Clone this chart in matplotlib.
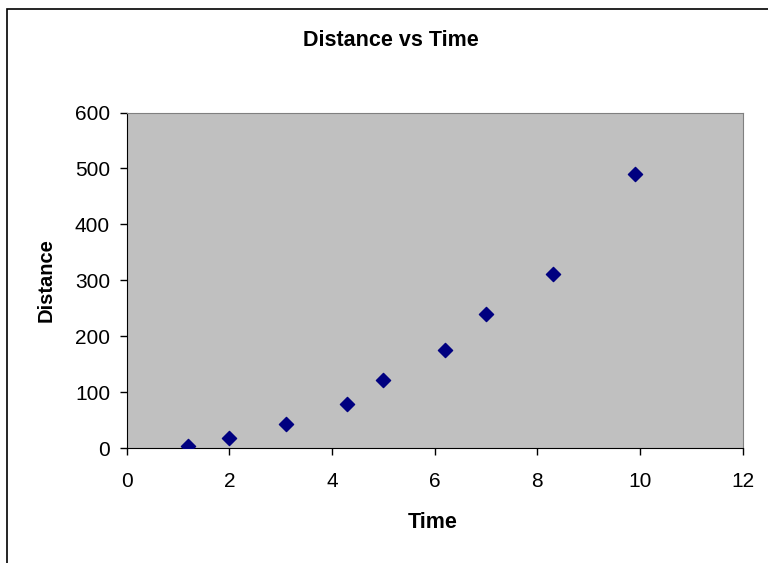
import matplotlib.pyplot as plt
from matplotlib.patches import Rectangle

plt.rcParams['font.family'] = ['Liberation Sans', 'DejaVu Sans']

############### Data ###############
time = [1.2, 2.0, 3.1, 4.3, 5.0, 6.2, 7.0, 8.3, 9.9]
distance = [4, 17, 43, 78, 122, 175, 240, 312, 490]
x_ticks = [0, 2, 4, 6, 8, 10, 12]
y_ticks = [0, 100, 200, 300, 400, 500, 600]

############### Figure ###############
fig = plt.figure(figsize=(7.68, 5.63), dpi=100)
fig.patches.append(Rectangle((6.5 / 768, -0.1), 1.2, 1 - 8.5 / 563 + 0.1,
                             transform=fig.transFigure, fill=False,
                             edgecolor='black', linewidth=1.2))

ax = fig.add_axes([126.7 / 768, 1 - 448 / 563, 616 / 768, 335.5 / 563])
ax.set_facecolor('#C0C0C0')
ax.scatter(time, distance, marker='D', s=52, color='#000080', zorder=3)

ax.set_xlim(0, 12)
ax.set_ylim(0, 600)
ax.set_xticks(x_ticks)
ax.set_yticks(y_ticks)
ax.tick_params(direction='out', length=5, width=1, labelsize=15)
ax.tick_params(axis='x', pad=12)
ax.tick_params(axis='y', pad=7)

for side in ['top', 'right']:
    ax.spines[side].set_color('#808080')
for side in ['left', 'bottom']:
    ax.spines[side].set_color('black')

fig.text(391 / 768, 1 - 41 / 563, 'Distance vs Time', ha='center', va='center',
         fontsize=15.5, fontweight='bold')
fig.text(433 / 768, 1 - 523 / 563, 'Time', ha='center', va='center',
         fontsize=15.5, fontweight='bold')
fig.text(46 / 768, 1 - 280 / 563, 'Distance', ha='center', va='center',
         rotation=90, fontsize=14.5, fontweight='bold')

fig.savefig('out.png', dpi=100)
